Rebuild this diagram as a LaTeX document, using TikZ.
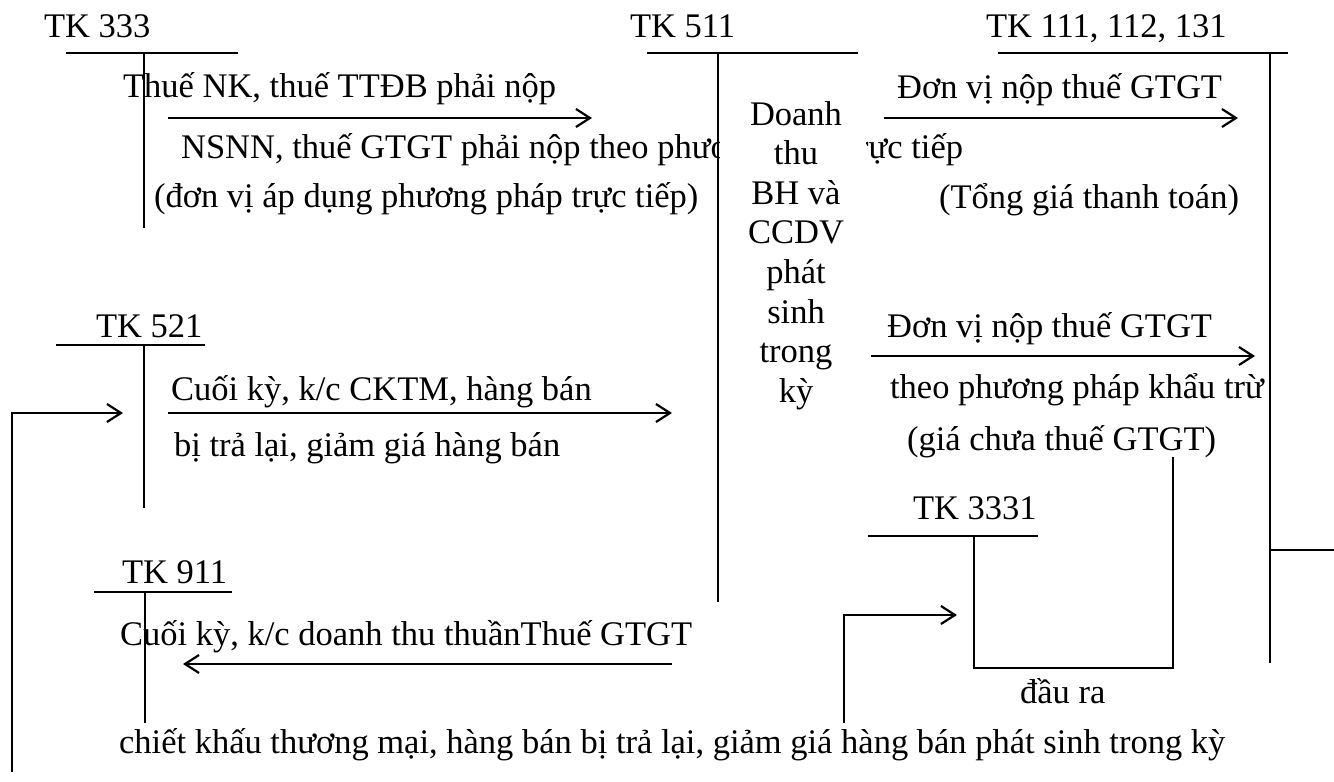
\documentclass[tikz,border=0pt]{standalone}
\usepackage{fontspec}
\setmainfont{Liberation Serif}
\usetikzlibrary{arrows.meta}
\begin{document}
\begin{tikzpicture}[x=0.5pt,y=-0.5pt,line width=1.1pt,
  lbl/.style={anchor=base west,inner sep=0pt,font=\fontsize{17.25}{19.8}\selectfont},
  mid/.style={anchor=base,inner sep=0pt,font=\fontsize{17.25}{19.8}\selectfont},
  arr/.style={-{Straight Barb[length=7pt,width=9pt,line width=1.1pt]}}]
\useasboundingbox (0,0) rectangle (1334,782);

% ---- texts ----
\node[lbl] (t333) at (43,37) {TK 333};
\node[lbl] (t511) at (629,37) {TK 511};
\node[lbl] (t111) at (985,37) {TK 111, 112, 131};
\node[lbl] (x1) at (122,97) {Thuế NK, thuế TTĐB phải nộp};
\node[lbl] (x2) at (180,158) {NSNN, thuế GTGT phải nộp theo phương pháp trực tiếp};
\node[lbl] (x3) at (153,207) {(đơn vị áp dụng phương pháp trực tiếp)};
\node[lbl] (y1) at (896,98) {Đơn vị nộp thuế GTGT};
\node[lbl] (y2) at (938,208) {(Tổng giá thanh toán)};
\node[lbl] (y3) at (886,337) {Đơn vị nộp thuế GTGT};
\node[lbl] (y4) at (889,398) {theo phương pháp khẩu trừ};
\node[lbl] (y5) at (906,450) {(giá chưa thuế GTGT)};
\node[lbl] (t3331) at (912,519) {TK 3331};
\node[lbl] (daura) at (1019,703) {đầu ra};
\node[lbl] (t521) at (95,337) {TK 521};
\node[lbl] (z1) at (170,400) {Cuối kỳ, k/c CKTM, hàng bán};
\node[lbl] (z2) at (173,456) {bị trả lại, giảm giá hàng bán};
\node[lbl] (t911) at (121,583) {TK 911};
\node[lbl] (w1) at (119,645) {Cuối kỳ, k/c doanh thu thuầnThuế GTGT};
\node[lbl] (w2) at (118,753) {chiết khấu thương mại, hàng bán bị trả lại, giảm giá hàng bán phát sinh trong kỳ};

% ---- middle text over a white box ----
\fill[white] (720,92) rectangle (866,420);
\foreach \t [count=\i from 0] in {Doanh,thu,BH và,CCDV,phát,sinh,trong,kỳ}
  \node[mid] (m\i) at (796,125+39.6*\i) {\t};

% ---- coordinates ----
\coordinate (a333l) at (66,53);  \coordinate (a333r) at (238,53);
\coordinate (a333t) at (144,53); \coordinate (a333b) at (144,228);
\coordinate (a511l) at (647,53); \coordinate (a511r) at (858,53);
\coordinate (a511t) at (718,53); \coordinate (a511b) at (718,602);
\coordinate (a111l) at (998,53); \coordinate (a111r) at (1288,53);
\coordinate (a111t) at (1270,53); \coordinate (a111b) at (1270,663);
\coordinate (a111s) at (1270,550); \coordinate (a111e) at (1334,550);
\coordinate (a3331l) at (868,536); \coordinate (a3331r) at (1038,536);
\coordinate (a3331t) at (974,536); \coordinate (a3331b) at (974,668);
\coordinate (a3331c) at (1173,668); \coordinate (a3331u) at (1173,457);
\coordinate (a521l) at (56,345); \coordinate (a521r) at (205,345);
\coordinate (a521t) at (144,345); \coordinate (a521b) at (144,508);
\coordinate (a911l) at (94,592); \coordinate (a911r) at (232,592);
\coordinate (a911t) at (145,592); \coordinate (a911b) at (145,723);

\coordinate (p1s) at (168,118);  \coordinate (p1e) at (592,118);
\coordinate (p2s) at (884,118);  \coordinate (p2e) at (1238,118);
\coordinate (p3s) at (871,356);  \coordinate (p3e) at (1255,356);
\coordinate (p4s) at (168,413);  \coordinate (p4e) at (672,413);
\coordinate (p5s) at (672,664);  \coordinate (p5e) at (183,664);
\coordinate (p6s) at (844,723);  \coordinate (p6e) at (957,615);
\coordinate (p7s) at (12,772);   \coordinate (p7e) at (123,413);

% ---- T accounts ----
\draw (a333l) -- (a333r); \draw (a333t) -- (a333b);
\draw (a511l) -- (a511r); \draw (a511t) -- (a511b);
\draw (a111l) -- (a111r); \draw (a111t) -- (a111b);
\draw (a111s) -- (a111e);
\draw (a3331l) -- (a3331r);
\draw (a3331t) -- (a3331b) -- (a3331c) -- (a3331u);
\draw (a521l) -- (a521r); \draw (a521t) -- (a521b);
\draw (a911l) -- (a911r); \draw (a911t) -- (a911b);

% ---- arrows ----
\draw[arr] (p1s) -- (p1e);
\draw[arr] (p2s) -- (p2e);
\draw[arr] (p3s) -- (p3e);
\draw[arr] (p4s) -- (p4e);
\draw[arr] (p5s) -- (p5e);
\draw[arr] (p6s) |- (p6e);
\draw[arr] (p7s) |- (p7e);
\end{tikzpicture}
\end{document}
